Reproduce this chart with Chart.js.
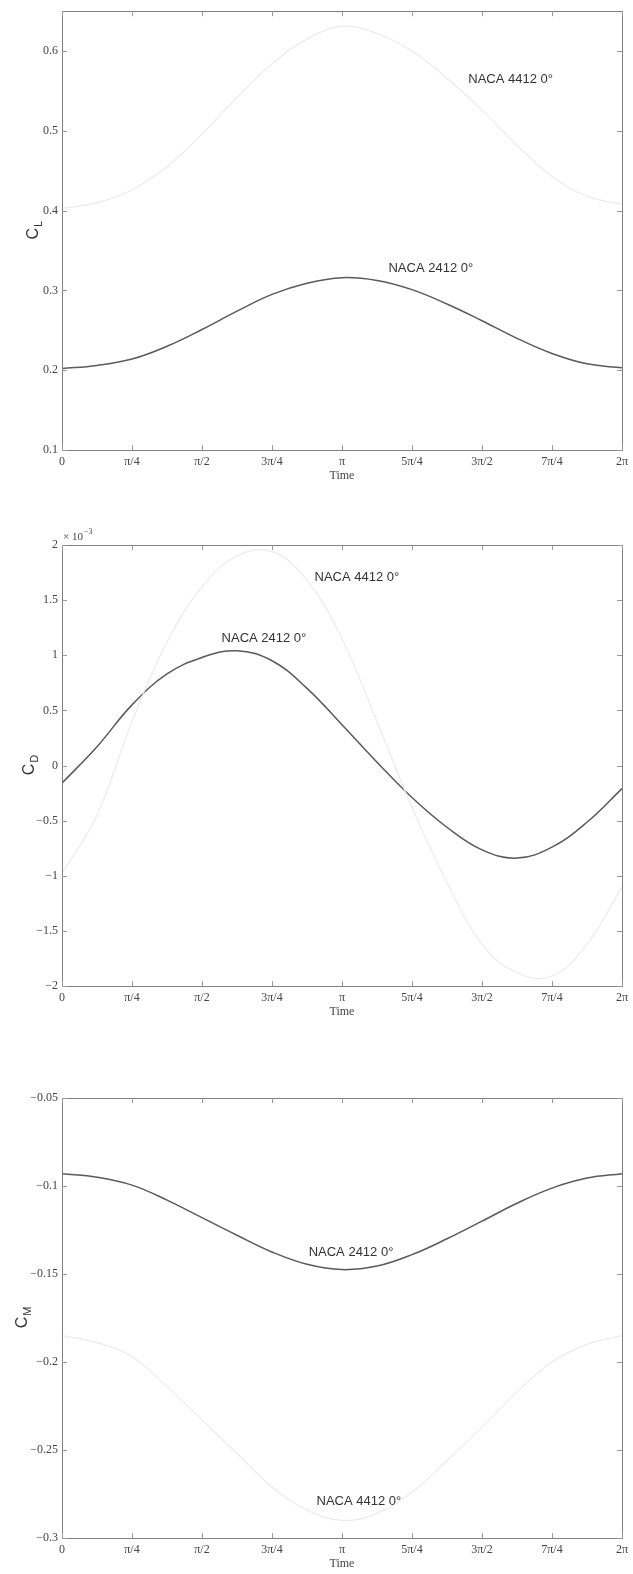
<!DOCTYPE html>
<html>
<head>
<meta charset="utf-8">
<script src="https://cdn.jsdelivr.net/npm/chart.js@4.4.1/dist/chart.umd.min.js"></script>
<style>
    html, body { margin: 0; padding: 0; background: #fff; }
    canvas { display: block; }
</style>
</head>
<body>
<canvas id="clChart" width="633" height="500"></canvas>
<canvas id="cdChart" width="633" height="540"></canvas>
<canvas id="cmChart" width="633" height="534"></canvas>
<script>
// Time in units of pi (0 .. 2pi)
const timeOverPi = [0, 0.125, 0.25, 0.375, 0.5, 0.625, 0.75, 0.875, 1, 1.125, 1.25, 1.375, 1.5, 1.625, 1.75, 1.875, 2];

const xTickPos    = [0, 0.25, 0.5, 0.75, 1, 1.25, 1.5, 1.75, 2];
const xTickLabels = ["0", "π/4", "π/2", "3π/4", "π", "5π/4", "3π/2", "7π/4", "2π"];

// Lift coefficient
const cl2412 = [0.202, 0.206, 0.214, 0.230, 0.251, 0.274, 0.295, 0.309, 0.316, 0.3125, 0.301, 0.283, 0.262, 0.240, 0.221, 0.208, 0.203];
const cl4412 = [0.403, 0.410, 0.426, 0.455, 0.496, 0.542, 0.584, 0.615, 0.631, 0.622, 0.600, 0.566, 0.526, 0.482, 0.443, 0.418, 0.408];
const clTicks      = [0.1, 0.2, 0.3, 0.4, 0.5, 0.6];
const clTickLabels = ["0.1", "0.2", "0.3", "0.4", "0.5", "0.6"];

// Drag coefficient (x 10^-3)
const cd2412 = [-0.16, 0.17, 0.55, 0.83, 0.98, 1.04, 0.95, 0.70, 0.37, 0.03, -0.29, -0.56, -0.765, -0.84, -0.74, -0.515, -0.21];
const cd4412 = [-0.98, -0.45, 0.40, 1.12, 1.62, 1.90, 1.94, 1.68, 1.15, 0.40, -0.38, -1.06, -1.62, -1.88, -1.91, -1.62, -1.10];
const cdTicks      = [-2, -1.5, -1, -0.5, 0, 0.5, 1, 1.5, 2];
const cdTickLabels = ["−2", "−1.5", "−1", "−0.5", "0", "0.5", "1", "1.5", "2"];

// Moment coefficient
const cm2412 = [-0.0930, -0.0950, -0.0995, -0.1080, -0.1180, -0.1280, -0.1375, -0.1445, -0.1475, -0.1455, -0.1390, -0.1300, -0.1200, -0.1098, -0.1012, -0.0955, -0.0930];
const cm4412 = [-0.185, -0.189, -0.197, -0.214, -0.233, -0.252, -0.271, -0.284, -0.290, -0.286, -0.274, -0.256, -0.237, -0.217, -0.200, -0.190, -0.185];
const cmTicks      = [-0.3, -0.25, -0.2, -0.15, -0.1, -0.05];
const cmTickLabels = ["−0.3", "−0.25", "−0.2", "−0.15", "−0.1", "−0.05"];

const SERIF = '"Liberation Serif", "Times New Roman", serif';
const SANS  = '"Liberation Sans", Arial, sans-serif';

const pairs = (xs, ys) => xs.map((x, i) => ({ x: x, y: ys[i] }));

// Frame, inward ticks, text labels, axis titles (MATLAB look)
const matlabFrame = {
    id: "matlabFrame",
    afterDatasetsDraw(chart, args, opts) {
        const { ctx, chartArea: a, scales: { x, y } } = chart;
        ctx.save();
        ctx.strokeStyle = "#808080";
        ctx.lineWidth = 1;
        ctx.strokeRect(Math.round(a.left) + 0.5, Math.round(a.top) + 0.5, Math.round(a.width), Math.round(a.height));

        ctx.strokeStyle = "#9a9a9a";
        ctx.beginPath();
        x.ticks.forEach(t => {
            const px = Math.round(x.getPixelForValue(t.value)) + 0.5;
            ctx.moveTo(px, a.bottom); ctx.lineTo(px, a.bottom - 5);
            ctx.moveTo(px, a.top);    ctx.lineTo(px, a.top + 5);
        });
        y.ticks.forEach(t => {
            const py = Math.round(y.getPixelForValue(t.value)) + 0.5;
            ctx.moveTo(a.left, py);  ctx.lineTo(a.left + 5, py);
            ctx.moveTo(a.right, py); ctx.lineTo(a.right - 5, py);
        });
        ctx.stroke();

        // curve labels
        ctx.fillStyle = "#333";
        ctx.font = "13px " + SANS;
        ctx.textAlign = "left";
        ctx.textBaseline = "middle";
        (opts.notes || []).forEach(n => {
            ctx.fillText(n.text, x.getPixelForValue(n.x), y.getPixelForValue(n.y));
        });

        // x title
        ctx.fillStyle = "#444";
        ctx.font = "12px " + SERIF;
        ctx.textAlign = "center";
        ctx.fillText("Time", (a.left + a.right) / 2, a.bottom + 26);

        // y title with subscript
        ctx.save();
        ctx.translate(opts.titleX, (a.top + a.bottom) / 2);
        ctx.rotate(-Math.PI / 2);
        ctx.textAlign = "left";
        ctx.textBaseline = "alphabetic";
        ctx.font = "16px " + SANS;
        const w1 = ctx.measureText("C").width;
        ctx.font = "11px " + SANS;
        const w2 = ctx.measureText(opts.sub).width;
        const start = -(w1 + w2) / 2;
        ctx.fillStyle = "#333";
        ctx.font = "16px " + SANS;
        ctx.fillText("C", start, 5);
        ctx.font = "11px " + SANS;
        ctx.fillText(opts.sub, start + w1 + 1, 9);
        ctx.restore();

        // exponent marker
        if (opts.exponent) {
            ctx.fillStyle = "#444";
            ctx.textAlign = "left";
            ctx.textBaseline = "alphabetic";
            ctx.font = "11px " + SERIF;
            ctx.fillText("× 10", a.left + 1, a.top - 5);
            const w = ctx.measureText("× 10").width;
            ctx.font = "8px " + SERIF;
            ctx.fillText(opts.exponent, a.left + 2 + w, a.top - 11);
        }
        ctx.restore();
    }
};

function buildChart(canvasId, cfg) {
    const tickFont = { family: SERIF, size: 12 };
    return new Chart(document.getElementById(canvasId), {
        type: "line",
        data: {
            datasets: [
                {
                    label: "NACA 4412 0°",
                    data: pairs(timeOverPi, cfg.faint),
                    borderColor: "#ebebeb",
                    borderWidth: 1.2,
                    pointRadius: 0,
                    tension: 0.4,
                    fill: false
                },
                {
                    label: "NACA 2412 0°",
                    data: pairs(timeOverPi, cfg.dark),
                    borderColor: "#5a5a5a",
                    borderWidth: 1.5,
                    pointRadius: 0,
                    tension: 0.4,
                    fill: false
                }
            ]
        },
        options: {
            responsive: false,
            animation: false,
            layout: { padding: { top: cfg.padTop, right: 10, left: 0, bottom: 0 } },
            plugins: {
                legend: { display: false },
                tooltip: { enabled: false },
                matlabFrame: { notes: cfg.notes, sub: cfg.sub, titleX: cfg.titleX, exponent: cfg.exponent }
            },
            scales: {
                x: {
                    type: "linear",
                    min: 0, max: 2,
                    grid: { display: false, drawTicks: false },
                    border: { display: false },
                    afterBuildTicks: s => { s.ticks = xTickPos.map(v => ({ value: v })); },
                    afterFit: s => { s.height = cfg.axisH; },
                    ticks: {
                        autoSkip: false, maxRotation: 0, padding: 5,
                        color: "#444", font: tickFont,
                        callback: (v, i) => xTickLabels[i]
                    }
                },
                y: {
                    type: "linear",
                    min: cfg.yMin, max: cfg.yMax,
                    grid: { display: false, drawTicks: false },
                    border: { display: false },
                    afterBuildTicks: s => { s.ticks = cfg.yTicks.map(v => ({ value: v })); },
                    afterFit: s => { s.width = 62; },
                    ticks: {
                        autoSkip: false, padding: 4,
                        color: "#444", font: tickFont,
                        callback: (v, i) => cfg.yLabels[i]
                    }
                }
            }
        },
        plugins: [matlabFrame]
    });
}

buildChart("clChart", {
    dark: cl2412, faint: cl4412,
    yMin: 0.1, yMax: 0.65, yTicks: clTicks, yLabels: clTickLabels,
    padTop: 8, axisH: 50, sub: "L", titleX: 33,
    notes: [
        { text: "NACA 4412 0°", x: 1.451, y: 0.565 },
        { text: "NACA 2412 0°", x: 1.166, y: 0.328 }
    ]
});

buildChart("cdChart", {
    dark: cd2412, faint: cd4412,
    yMin: -2, yMax: 2, yTicks: cdTicks, yLabels: cdTickLabels,
    padTop: 45, axisH: 54, sub: "D", titleX: 29, exponent: "−3",
    notes: [
        { text: "NACA 4412 0°", x: 0.902, y: 1.71 },
        { text: "NACA 2412 0°", x: 0.570, y: 1.15 }
    ]
});

buildChart("cmChart", {
    dark: cm2412, faint: cm4412,
    yMin: -0.3, yMax: -0.05, yTicks: cmTicks, yLabels: cmTickLabels,
    padTop: 58, axisH: 36, sub: "M", titleX: 22,
    notes: [
        { text: "NACA 2412 0°", x: 0.881, y: -0.138 },
        { text: "NACA 4412 0°", x: 0.909, y: -0.279 }
    ]
});
</script>
</body>
</html>
